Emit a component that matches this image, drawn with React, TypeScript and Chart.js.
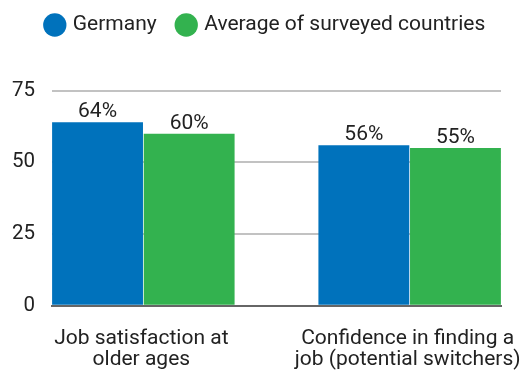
import React, { useEffect, useRef } from "react";
import { Chart, registerables } from "chart.js";

Chart.register(...registerables);

// ---- data ----
const categories: string[][] = [
  ["Job satisfaction at", "older ages"],
  ["Confidence in finding a", "job (potential switchers)"],
];
const seriesNames = ["Germany", "Average of surveyed countries"];
const germany = [64, 56];
const surveyedAverage = [60, 55];
const yTickValues = [0, 25, 50, 75];
const seriesColors = ["#0072BC", "#33B24F"];

const FONT = "Roboto, 'Noto Sans', sans-serif";
const TEXT_COLOR = "#222222";

const valueLabelPlugin = {
  id: "valueLabels",
  afterDatasetsDraw(chart: any) {
    const ctx = chart.ctx;
    ctx.save();
    ctx.font = `400 21px ${FONT}`;
    ctx.fillStyle = TEXT_COLOR;
    ctx.textAlign = "center";
    ctx.textBaseline = "alphabetic";
    chart.data.datasets.forEach((ds: any, di: number) => {
      const meta = chart.getDatasetMeta(di);
      meta.data.forEach((bar: any, i: number) => {
        const v = ds.data[i].y;
        ctx.fillText(`${v}%`, bar.x, bar.y - 5);
      });
    });
    ctx.restore();
  },
};

const legendSpacerPlugin = {
  id: "legendSpacer",
  beforeInit(chart: any) {
    const legend = chart.legend;
    if (!legend) return;
    const origFit = legend.fit;
    legend.fit = function () {
      origFit.call(this);
      this.height = 98.2;
      if (this.lineWidths && this.lineWidths.length) {
        this.lineWidths[0] -= 12.6;
      }
    };
  },
};

export default function App() {
  const ref = useRef<HTMLCanvasElement | null>(null);

  useEffect(() => {
    document.body.style.margin = "0";
    const canvas = ref.current;
    if (!canvas) return;
    const chart = new Chart(canvas, {
      type: "bar",
      data: {
        datasets: [
          {
            label: seriesNames[0],
            data: germany.map((v, i) => ({ x: i, y: v })),
            backgroundColor: seriesColors[0],
            borderWidth: 0,
          },
          {
            label: seriesNames[1],
            data: surveyedAverage.map((v, i) => ({ x: i, y: v })),
            backgroundColor: seriesColors[1],
            borderWidth: 0,
          },
        ],
      },
      options: {
        responsive: false,
        animation: false,
        events: [],
        categoryPercentage: 0.688,
        barPercentage: 0.992,
        layout: { padding: { top: -7.5, right: 0, left: 0, bottom: 0 } },
        plugins: {
          tooltip: { enabled: false },
          legend: {
            position: "top",
            labels: {
              usePointStyle: true,
              pointStyle: "circle",
              boxWidth: 15,
              boxHeight: 16.5,
              padding: 22,
              color: TEXT_COLOR,
              font: { family: FONT, size: 21 },
            },
          },
        },
        scales: {
          x: {
            type: "linear",
            offset: false,
            min: -0.343,
            max: 1.343,
            afterBuildTicks: (axis: any) => {
              axis.ticks = categories.map((_, i) => ({ value: i }));
            },
            afterFit: (axis: any) => {
              axis.paddingLeft = 0;
              axis.paddingRight = 19;
              axis.height = 65.3;
            },
            grid: { display: true, offset: false, color: "rgba(0,0,0,0)", drawTicks: false },
            border: { display: true, color: "#666666", width: 2 },
            ticks: {
              autoSkip: false,
              maxRotation: 0,
              minRotation: 0,
              padding: 23,
              labelOffset: -2,
              color: TEXT_COLOR,
              font: { family: FONT, size: 21, lineHeight: 1.0 },
              callback: (value: any) => categories[Math.round(Number(value))] ?? "",
            },
          },
          y: {
            min: 0,
            max: 75,
            afterBuildTicks: (axis: any) => {
              axis.ticks = yTickValues.map((v) => ({ value: v }));
            },
            afterFit: (axis: any) => {
              axis.width = 52;
            },
            grid: {
              drawTicks: false,
              lineWidth: 2,
              color: (c: any) => (c.tick && c.tick.value === 0 ? "rgba(0,0,0,0)" : "#c2c2c2"),
            },
            border: { display: false },
            ticks: {
              padding: 17,
              color: TEXT_COLOR,
              font: { family: FONT, size: 20.5 },
            },
          },
        },
      },
      plugins: [valueLabelPlugin, legendSpacerPlugin],
    } as any);
    return () => chart.destroy();
  }, []);

  return <canvas ref={ref} width={520} height={371} style={{ display: "block" }} />;
}
